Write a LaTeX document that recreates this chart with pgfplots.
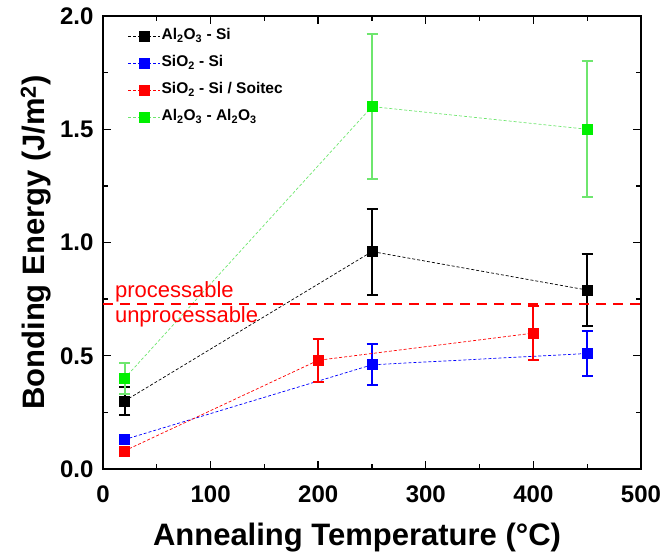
\documentclass[border=0pt]{standalone}
\usepackage{pgfplots}
\pgfplotsset{compat=1.18}
\usepackage{fontspec}
\setmainfont{Liberation Sans}
\definecolor{cgreen}{RGB}{0,240,0}
\definecolor{lgreen}{RGB}{110,230,110}
\begin{document}
\begin{tikzpicture}
\begin{axis}[
  name=ax,
  scale only axis, width=538pt, height=453pt,
  xmin=0, xmax=500, ymin=0, ymax=2,
  xtick={0,100,...,500}, minor xtick={50,150,...,450},
  ytick={0,0.5,1,1.5,2}, minor ytick={0.25,0.75,1.25,1.75},
  yticklabels={\textbf{0.0},\textbf{0.5},\textbf{1.0},\textbf{1.5},\textbf{2.0}},
  xticklabels={\textbf{0},\textbf{100},\textbf{200},\textbf{300},\textbf{400},\textbf{500}},
  tick align=inside, major tick length=8pt, minor tick length=5pt,
  tick style={black, line width=1.4pt},
  axis line style={line width=1.4pt},
  ticklabel style={font=\fontsize{24}{28}\selectfont},
  xticklabel style={anchor=base, yshift=-34pt},
  yticklabel style={anchor=east, xshift=-6pt},
  xlabel={\textbf{Annealing Temperature (\textdegree C)}},
  ylabel={\textbf{Bonding Energy (J/m$^{\mathbf{2}}$)}},
  label style={font=\fontsize{31}{34}\selectfont},
  xlabel style={at={(axis description cs:0.5,0)}, anchor=base, yshift=-76pt, xshift=-15pt},
  ylabel style={at={(axis description cs:0,0.5)}, anchor=base, yshift=58pt},
  legend style={draw=none, fill=none, at={(axis cs:23,1.95)}, anchor=north west, inner sep=0pt,
    font=\fontsize{15.5}{17}\selectfont\bfseries, row sep=10pt,
    nodes={inner sep=1pt, text height=11pt, text depth=4pt}},
  legend cell align=left,
  legend image code/.code={\draw[mark repeat=2,mark phase=2,#1] plot coordinates {(0pt,0pt) (16pt,0pt) (32pt,0pt)};},
  clip=false,
]
\addplot[black, densely dashed, line width=0.7pt, mark=square*, mark size=5pt, mark options={solid},
  error bars/.cd, y dir=both, y explicit, error bar style={line width=2pt, solid}, error mark options={rotate=90, mark size=5.5pt, line width=2pt}]
  coordinates {(20,0.30) +- (0,0.062) (250,0.96) +- (0,0.19) (450,0.79) +- (0,0.16)};
\addlegendentry{Al$_\mathbf{2}$O$_\mathbf{3}$ - Si}
\addplot[blue, densely dashed, line width=0.7pt, mark=square*, mark size=5pt, mark options={solid},
  error bars/.cd, y dir=both, y explicit, error bar style={line width=2pt, solid}, error mark options={rotate=90, mark size=5.5pt, line width=2pt}]
  coordinates {(20,0.13) +- (0,0.02) (250,0.46) +- (0,0.09) (450,0.51) +- (0,0.10)};
\addlegendentry{SiO$_\mathbf{2}$ - Si}
\addplot[red, densely dashed, line width=0.7pt, mark=square*, mark size=5pt, mark options={solid},
  error bars/.cd, y dir=both, y explicit, error bar style={line width=2pt, solid}, error mark options={rotate=90, mark size=5.5pt, line width=2pt}]
  coordinates {(20,0.08) +- (0,0.01) (200,0.48) +- (0,0.095) (400,0.60) +- (0,0.12)};
\addlegendentry{SiO$_\mathbf{2}$ - Si / Soitec}
\addplot[lgreen, densely dashed, line width=0.7pt, mark=square*, mark size=5pt, mark options={solid, cgreen},
  error bars/.cd, y dir=both, y explicit, error bar style={lgreen, line width=2pt, solid}, error mark options={rotate=90, mark size=5.5pt, line width=2pt, lgreen}]
  coordinates {(20,0.40) +- (0,0.07) (250,1.60) +- (0,0.32) (450,1.50) +- (0,0.30)};
\addlegendentry{Al$_\mathbf{2}$O$_\mathbf{3}$ - Al$_\mathbf{2}$O$_\mathbf{3}$}
\addplot[red, line width=2pt, dash pattern=on 10pt off 7pt, forget plot] coordinates {(0,0.73) (500,0.73)};
\node[red, anchor=base west, font=\fontsize{22}{24}\selectfont, inner sep=0pt] at (axis cs:11,0.755) {processable};
\node[red, anchor=base west, font=\fontsize{22}{24}\selectfont, inner sep=0pt] at (axis cs:11,0.648) {unprocessable};
\end{axis}
\pgfresetboundingbox
\path ([shift={(-103pt,-90pt)}]ax.south west) rectangle ([shift={(28pt,16pt)}]ax.north east);
\end{tikzpicture}
\end{document}
